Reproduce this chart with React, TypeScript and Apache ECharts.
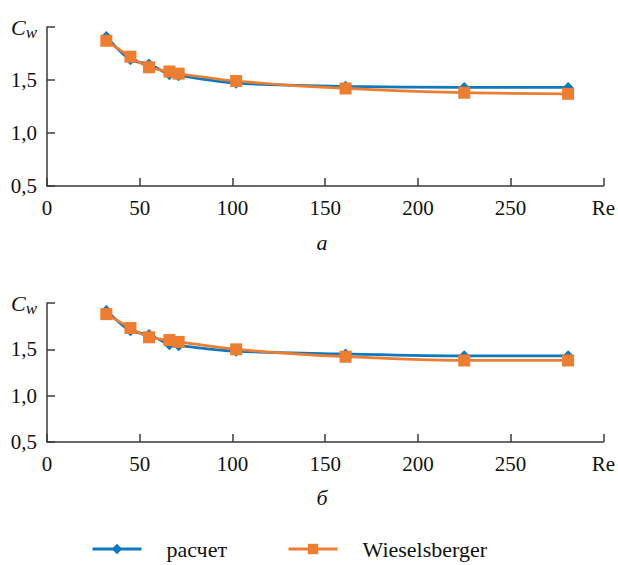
import React, { useEffect, useRef } from "react";
import * as echarts from "echarts";

const reValues = [32, 45, 55, 66, 71, 102, 161, 225, 281];
const calcTop = [1.91, 1.69, 1.65, 1.55, 1.54, 1.47, 1.44, 1.43, 1.43];
const wieselTop = [1.87, 1.72, 1.62, 1.58, 1.56, 1.49, 1.42, 1.38, 1.37];
const calcBottom = [1.92, 1.70, 1.66, 1.55, 1.54, 1.48, 1.45, 1.43, 1.43];
const wieselBottom = [1.88, 1.73, 1.63, 1.60, 1.58, 1.50, 1.42, 1.38, 1.38];
const seriesNames = ["расчет", "Wieselsberger"];
const panelLabels = ["а", "б"];

const BLUE = "#0E78C0";
const ORANGE = "#ED7D31";
const AXIS = "#3a3a3a";
const FONT = "'Liberation Serif', 'DejaVu Serif', serif";

export default function App() {
  const ref = useRef<HTMLDivElement>(null);
  useEffect(() => {
    if (!ref.current) return;
    const chart = echarts.init(ref.current, null, { renderer: "svg" });
    const xAxisBase = (gridIndex: number) => ({
      type: "value",
      gridIndex,
      min: 0,
      max: 300,
      interval: 50,
      axisLine: { lineStyle: { color: AXIS, width: 1.5 } },
      axisTick: { inside: true, length: 8, lineStyle: { color: AXIS, width: 1.5 } },
      splitLine: { show: false },
      axisLabel: {
        margin: 11,
        color: "#111",
        fontFamily: FONT,
        fontSize: 21,
        formatter: (v: number) => (v === 300 ? "Re" : String(v)),
      },
    });
    const yAxisBase = (gridIndex: number) => ({
      type: "value",
      gridIndex,
      min: 0.5,
      max: 2.0,
      interval: 0.5,
      axisLine: { show: true, lineStyle: { color: AXIS, width: 1.5 } },
      axisTick: { show: true, inside: true, length: 8, lineStyle: { color: AXIS, width: 1.5 } },
      splitLine: { show: false },
      axisLabel: {
        margin: 10,
        color: "#111",
        fontFamily: FONT,
        fontSize: 21,
        formatter: (v: number) =>
          v === 2 ? "{c|C}{w|w}" : v.toFixed(1).replace(".", ","),
        rich: {
          c: { fontFamily: FONT, fontStyle: "italic", fontSize: 22, color: "#111" },
          w: { fontFamily: FONT, fontStyle: "italic", fontSize: 17, color: "#111", padding: [10, 0, 0, 0] },
        },
      },
    });
    const lineSeries = (
      name: string,
      data: number[],
      idx: number,
      color: string,
      symbol: string,
      z: number
    ) => ({
      name,
      type: "line",
      xAxisIndex: idx,
      yAxisIndex: idx,
      data: reValues.map((x, i) => [x, data[i]]),
      smooth: 0.3,
      symbol,
      symbolSize: symbol === "rect" ? 12 : 11,
      showSymbol: true,
      z,
      lineStyle: { color, width: 2.75 },
      itemStyle: { color },
    });
    chart.setOption({
      animation: false,
      backgroundColor: "#fff",
      textStyle: { fontFamily: FONT },
      grid: [
        { left: 47, top: 27, width: 559, height: 159 },
        { left: 47, top: 303, width: 559, height: 139 },
      ],
      xAxis: [xAxisBase(0), xAxisBase(1)],
      yAxis: [yAxisBase(0), yAxisBase(1)],
      legend: {
        data: seriesNames,
        left: 86,
        top: 533,
        itemWidth: 49,
        itemHeight: 13,
        itemGap: 60,
        lineStyle: { width: 3 },
        textStyle: { fontFamily: FONT, fontSize: 22, color: "#111", padding: [0, 0, 0, 20] },
      },
      graphic: [
        {
          type: "text",
          x: 322,
          y: 242,
          style: {
            text: panelLabels[0],
            font: `italic 22px ${FONT}`,
            fill: "#111",
            textAlign: "center",
            textVerticalAlign: "middle",
          },
        },
        {
          type: "text",
          x: 322,
          y: 497,
          style: {
            text: panelLabels[1],
            font: `italic 22px ${FONT}`,
            fill: "#111",
            textAlign: "center",
            textVerticalAlign: "middle",
          },
        },
      ],
      series: [
        lineSeries(seriesNames[0], calcTop, 0, BLUE, "diamond", 2),
        lineSeries(seriesNames[1], wieselTop, 0, ORANGE, "rect", 3),
        lineSeries(seriesNames[0], calcBottom, 1, BLUE, "diamond", 2),
        lineSeries(seriesNames[1], wieselBottom, 1, ORANGE, "rect", 3),
      ],
    });
    return () => chart.dispose();
  }, []);
  return (
    <div
      ref={ref}
      style={{ width: 618, height: 565, position: "fixed", left: 0, top: 0 }}
    />
  );
}
